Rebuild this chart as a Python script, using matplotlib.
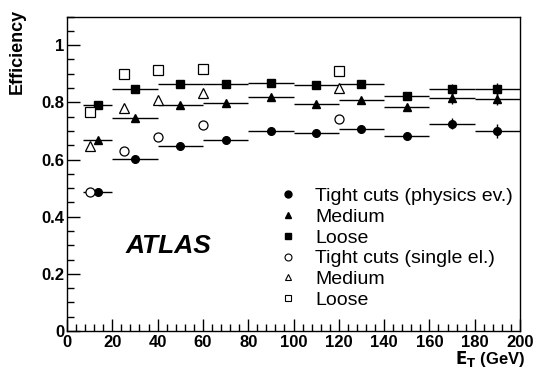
import numpy as np
import matplotlib.pyplot as plt
from matplotlib.lines import Line2D
from matplotlib.ticker import MultipleLocator, FormatStrFormatter

plt.rcParams['font.family'] = ['Liberation Sans', 'DejaVu Sans']
plt.rcParams['font.weight'] = 'bold'
plt.rcParams['mathtext.default'] = 'bf'

# physics events (binned in E_T)
x_bins = [13.5, 30, 50, 70, 90, 110, 130, 150, 170, 190]
x_err = [6.5, 10, 10, 10, 10, 10, 10, 10, 10, 10]
tight_ph = [0.488, 0.601, 0.647, 0.670, 0.700, 0.693, 0.706, 0.684, 0.725, 0.700]
medium_ph = [0.667, 0.744, 0.791, 0.799, 0.817, 0.793, 0.809, 0.785, 0.815, 0.812]
loose_ph = [0.789, 0.847, 0.865, 0.863, 0.867, 0.859, 0.863, 0.821, 0.845, 0.847]
tight_err = [0.005, 0.005, 0.005, 0.005, 0.005, 0.005, 0.005, 0.01, 0.02, 0.025]
medium_err = [0.005, 0.005, 0.005, 0.005, 0.005, 0.005, 0.005, 0.01, 0.02, 0.02]
loose_err = [0.005, 0.005, 0.005, 0.005, 0.005, 0.005, 0.005, 0.01, 0.02, 0.02]

# single electrons
x_single = [10, 25, 40, 60, 120]
tight_se = [0.488, 0.631, 0.678, 0.721, 0.741]
medium_se = [0.649, 0.780, 0.809, 0.833, 0.849]
loose_se = [0.766, 0.898, 0.913, 0.916, 0.909]

labels = ['Tight cuts (physics ev.)', 'Medium', 'Loose',
          'Tight cuts (single el.)', 'Medium', 'Loose']

fig = plt.figure(figsize=(5.33, 3.69), dpi=100)
ax = fig.add_axes([0.1257, 0.103, 0.85, 0.852])

for y, e, m in [(tight_ph, tight_err, 'o'), (medium_ph, medium_err, '^'), (loose_ph, loose_err, 's')]:
    ax.errorbar(x_bins, y, xerr=x_err, yerr=e, fmt=m, color='k', ms=5.5,
                elinewidth=1, capsize=0, zorder=3)

ax.plot(x_single, tight_se, 'o', mfc='white', mec='k', ms=6.5, mew=0.9, zorder=4)
ax.plot(x_single, medium_se, '^', mfc='white', mec='k', ms=6.5, mew=0.9, zorder=4)
ax.plot(x_single, loose_se, 's', mfc='white', mec='k', ms=6.5, mew=0.9, zorder=4)

ax.set_xlim(0, 200)
ax.set_ylim(0, 1.1)
ax.xaxis.set_major_locator(MultipleLocator(20))
ax.xaxis.set_minor_locator(MultipleLocator(4))
ax.yaxis.set_major_locator(MultipleLocator(0.2))
ax.yaxis.set_minor_locator(MultipleLocator(0.05))
ax.yaxis.set_major_formatter(FormatStrFormatter('%g'))
ax.tick_params(which='both', direction='in', top=False, right=False)
ax.tick_params(which='major', length=9, width=1, labelsize=12)
ax.tick_params(axis='x', which='major', pad=3)
ax.tick_params(axis='y', which='major', pad=2)
ax.tick_params(which='minor', length=5, width=1)
for s in ax.spines.values():
    s.set_linewidth(1)

ax.set_ylabel('Efficiency', fontsize=13, fontweight='bold', ha='right')
ax.yaxis.set_label_coords(-0.09, 1.025)
ax.set_xlabel(r'$E_T$ (GeV)', fontsize=12, fontweight='bold', ha='right', va='baseline')
ax.xaxis.set_label_coords(1.012, -0.106)

ax.text(0.13, 0.27, 'ATLAS', transform=ax.transAxes, fontsize=19,
        fontweight='bold', fontstyle='italic', va='center')

handles = [
    Line2D([], [], ls='none', marker='o', color='k', ms=5),
    Line2D([], [], ls='none', marker='^', color='k', ms=4.5),
    Line2D([], [], ls='none', marker='s', color='k', ms=4.5),
    Line2D([], [], ls='none', marker='o', mfc='white', mec='k', ms=5, mew=0.8),
    Line2D([], [], ls='none', marker='^', mfc='white', mec='k', ms=5, mew=0.8),
    Line2D([], [], ls='none', marker='s', mfc='white', mec='k', ms=5, mew=0.8),
]
ax.legend(handles, labels, loc='upper left', bbox_to_anchor=(0.466, 0.456),
          frameon=False, prop={'size': 14, 'weight': 'normal'}, handlelength=1.0,
          handletextpad=0.9, labelspacing=0.16, borderpad=0, borderaxespad=0)

plt.savefig('out.png', dpi=100)
